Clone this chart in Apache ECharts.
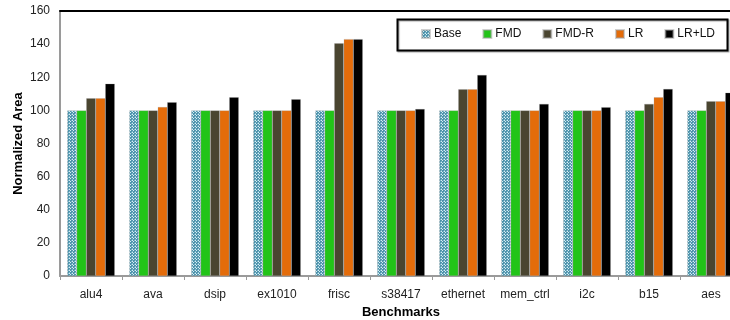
<!DOCTYPE html>
<html><head><meta charset="utf-8">
<script src="https://cdn.jsdelivr.net/npm/echarts@6/dist/echarts.min.js"></script>
<style>html,body{margin:0;padding:0;background:#fff}#c{width:730px;height:320px}</style>
</head><body><div id="c"></div>
<script>
const categories = ['alu4','ava','dsip','ex1010','frisc','s38417','ethernet','mem_ctrl','i2c','b15','aes'];
const seriesNames = ['Base','FMD','FMD-R','LR','LR+LD'];
const base  = [100,100,100,100,100,100,100,100,100,100,100];
const fmd   = [100,100,100,100,100,100,100,100,100,100,100];
const fmdR  = [107.3,100,100,100,140.5,100,112.7,100,100,103.9,105.5];
const lr    = [107.3,102,100,100,143,100,112.7,100,100,107.9,105.5];
const lrld  = [116.1,104.9,107.9,106.7,143,100.8,121.4,103.9,101.9,112.9,110.7];
const yTicks = [0,20,40,60,80,100,120,140,160];

// dotted pattern for Base
const pc = document.createElement('canvas');
pc.width = 3; pc.height = 3;
const g = pc.getContext('2d');
g.fillStyle = '#4e93ab'; g.fillRect(0,0,3,3);
g.fillStyle = '#d8eef5'; g.fillRect(1,1,1,1); g.fillRect(0,0,1,1);
g.fillStyle = '#7fb8cc'; g.fillRect(2,0,1,1); g.fillRect(0,2,1,1);

const colors = [{image: pc, repeat: 'repeat'}, '#22c418', '#4a4530', '#e46c0a', '#000000'];
const datas = [base, fmd, fmdR, lr, lrld];

const chart = echarts.init(document.getElementById('c'), null, {renderer:'canvas'});
chart.setOption({
  animation: false,
  textStyle: {fontFamily: 'Liberation Sans, Arial, sans-serif'},
  grid: {left: 60, top: 11, width: 682, height: 265, containLabel: false, outerBoundsMode: 'none'},
  legend: {
    left: 416, top: 23, width: 320, itemWidth: 8, itemHeight: 8, itemGap: 21,
    icon: 'rect', orient: 'horizontal',
    textStyle: {fontSize: 12, color: '#111', padding: [0,0,0,-1]},
    data: seriesNames
  },
  graphic: [{
    type: 'rect', left: 395, top: 17, shape: {width: 330, height: 31},
    style: {fill: 'none', stroke: '#000', lineWidth: 2, shadowColor: 'rgba(0,0,0,0.35)', shadowOffsetX: 1, shadowOffsetY: 1, shadowBlur: 1},
    z: 0
  }],
  xAxis: [{
    type: 'category', data: categories,
    name: 'Benchmarks', nameLocation: 'middle', nameGap: 30,
    nameTextStyle: {fontWeight: 'bold', fontSize: 13, color: '#000'},
    axisLine: {lineStyle: {color: '#9a9a9a', width: 2}},
    axisTick: {show: true, length: 4, lineStyle: {color: '#9a9a9a'}},
    axisLabel: {fontSize: 12, color: '#222', margin: 13, interval: 0}
  },{
    type: 'category', data: categories, position: 'top',
    axisLine: {lineStyle: {color: '#000', width: 2}},
    axisTick: {show: false}, axisLabel: {show: false}
  }],
  yAxis: {
    type: 'value', min: 0, max: 160, interval: 20,
    name: 'Normalized Area', nameLocation: 'middle', nameGap: 35, nameMoveOverlap: false,
    nameTextStyle: {fontWeight: 'bold', fontSize: 13, color: '#000'},
    axisLine: {show: true, lineStyle: {color: '#9a9a9a', width: 2}},
    axisTick: {show: false},
    splitLine: {show: false},
    axisLabel: {fontSize: 12, color: '#222', margin: 10,
      formatter: v => yTicks.includes(v) ? String(v) : ''}
  },
  series: seriesNames.map((n, i) => ({
    name: n, type: 'bar', data: datas[i], xAxisIndex: 0,
    barWidth: 9.5, barGap: '0%',
    itemStyle: {color: colors[i], borderColor: 'rgba(160,160,160,0.5)', borderWidth: 0.5}
  }))
});
</script></body></html>
